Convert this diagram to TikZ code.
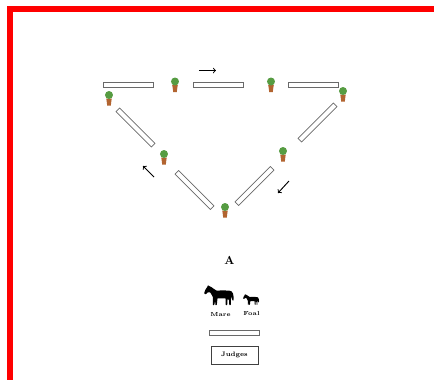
\documentclass[tikz,border=0pt]{standalone}
\usepackage{amsmath, amssymb}
\usetikzlibrary{positioning}

\definecolor{ringred}{RGB}{255,0,0}
\definecolor{leafgreen}{RGB}{86,156,66}
\definecolor{potbrown}{RGB}{178,100,48}
\definecolor{railgray}{RGB}{105,105,105}

\tikzset{
  rail/.style={rectangle, draw=railgray, fill=white, line width=0.6pt,
    minimum width=1.5cm, minimum height=0.15cm, inner sep=0pt},
  dirarrow/.style={->, line width=0.8pt},
  smalllbl/.style={font=\bfseries\fontsize{5}{6}\selectfont, inner sep=0pt},
  plant/.pic={
    % maceta
    \fill[potbrown] (-2.8,0.6) -- (2.8,0.6) -- (2.5,2) -- (1.8,7.5) -- (-1.8,7.5) -- (-2.5,2) -- cycle;
    % copa
    \fill[leafgreen] (0,-3) circle (4);
  },
  horse/.pic={
    \fill[black, rounded corners=0.3pt] (0.3,7.5) -- (1.5,4.5) -- (3.5,1.5) -- (4,0) -- (5,1) -- (7.5,2.2)
      -- (10,4) -- (12.5,5.6) -- (19,5.4) -- (25,5.6) -- (27.5,6.3) -- (29,8.5) -- (29.8,13)
      -- (29.2,16) -- (27.8,14) -- (27.4,11.5) -- (26.8,13.5) -- (26.8,20) -- (25.3,20)
      -- (25,15) -- (23.6,13.6) -- (23.2,20) -- (21.7,20) -- (21.5,13.3) -- (13.5,13.3)
      -- (12.8,20) -- (11.3,20) -- (11.2,14.5) -- (10.3,20) -- (8.8,20) -- (9,12.5)
      -- (7.8,10) -- (6.3,7.5) -- (4,7.2) -- (2.2,9) -- (0.6,9) -- cycle;
  }
}

\begin{document}
\begin{tikzpicture}[x=0.03cm, y=-0.03cm]
\useasboundingbox (0,0) rectangle (434,380);

% Marco rojo
\fill[ringred] (7,6) rectangle (434,12);
\fill[ringred] (7,6) rectangle (13,380);

% Vallas de arriba
\node[rail] (railT1) at (128.5,84.5) {};
\node[rail] (railT2) at (218.5,84.5) {};
\node[rail] (railT3) at (313,84.5) {};

% Vallas en diagonal
\node[rail, rotate=-45] (railL1) at (135.5,127.5) {};
\node[rail, rotate=-45] (railL2) at (194.5,190) {};
\node[rail, rotate=45] (railR2) at (254.5,186) {};
\node[rail, rotate=45] (railR1) at (317.5,122.5) {};

% Plantas
\pic at (109,98) {plant};
\pic at (175,84.5) {plant};
\pic at (271,84.5) {plant};
\pic at (343,94) {plant};
\pic at (164,157) {plant};
\pic at (283,154) {plant};
\pic at (225,210) {plant};

% Sentido de la pista
\coordinate (topS) at (199,70.5);
\coordinate (topE) at (216,70.5);
\draw[dirarrow] (topS) -- (topE);
\coordinate (leftS) at (154,177);
\coordinate (leftE) at (143,166);
\draw[dirarrow] (leftS) -- (leftE);
\coordinate (rightS) at (289,181);
\coordinate (rightE) at (278,193);
\draw[dirarrow] (rightS) -- (rightE);

% Punto A y caballos
\node[font=\bfseries\fontsize{10}{11}\selectfont, inner sep=0pt] (ptA) at (229.5,260.5) {A};
\pic at (204,285) {horse};
\pic[scale=0.54] at (243,294) {horse};
\node[smalllbl] (mare) at (220.5,314.5) {Mare};
\node[smalllbl] (foal) at (251.5,313) {Foal};

% Jueces
\node[rail] (judgeRail) at (234.5,332.5) {};
\node[draw=black!75, line width=0.8pt, minimum width=1.41cm, minimum height=0.54cm,
  inner sep=0pt, font=\bfseries\fontsize{5.5}{6}\selectfont] (judges) at (234.5,355) {Judges};

\end{tikzpicture}
\end{document}
